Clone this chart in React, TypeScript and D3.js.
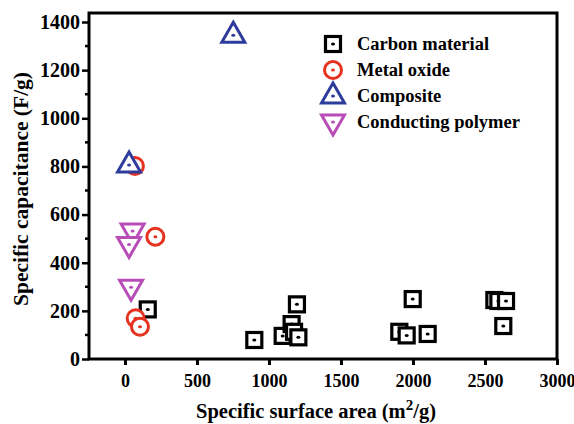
import React, { useEffect, useRef } from "react";
import * as d3 from "d3";

// [surface area m2/g, capacitance F/g]
const carbonArea = [158, 898, 1095, 1157, 1174, 1204, 1194, 1905, 1956, 1998, 2102, 2565, 2593, 2646, 2627];
const carbonCap = [206, 79, 96, 145, 113, 90, 227, 113, 98, 249, 104, 245, 241, 241, 137];
const oxideArea = [69, 211, 74, 104];
const oxideCap = [802, 508, 169, 134];
const compositeArea = [752, 28];
const compositeCap = [1345, 806];
const polymerArea = [53, 28, 42];
const polymerCap = [532, 476, 298];

const seriesNames = ["Carbon material", "Metal oxide", "Composite", "Conducting polymer"];
const seriesColors = ["#000000", "#e5331f", "#2d3c9c", "#b84db8"];
const seriesShapes = ["square", "circle", "up", "down"];

const xTicks = [0, 500, 1000, 1500, 2000, 2500, 3000];
const yTicks = [0, 200, 400, 600, 800, 1000, 1200, 1400];

const W = 574;
const H = 424;
const FONT = "Liberation Serif";

function drawMarker(g, shape, color, x, y) {
  const m = g.append("g").attr("transform", `translate(${x},${y})`);
  if (shape === "square") {
    m.append("rect").attr("x", -7.5).attr("y", -7.5).attr("width", 15).attr("height", 15)
      .attr("fill", "white").attr("stroke", color).attr("stroke-width", 3.2);
  } else if (shape === "circle") {
    m.append("circle").attr("r", 8.5).attr("fill", "white").attr("stroke", color).attr("stroke-width", 3);
  } else {
    const s = shape === "up" ? 1 : -1;
    const pts = [[0, -13 * s], [11.5, 7 * s], [-11.5, 7 * s]];
    m.append("path").attr("d", "M" + pts.map((p) => p.join(",")).join("L") + "Z")
      .attr("fill", "white").attr("stroke", color).attr("stroke-width", 3).attr("stroke-linejoin", "miter");
  }
  m.append("ellipse").attr("rx", 2).attr("ry", 1.5).attr("fill", color);
}

const App = () => {
  const svgRef = useRef(null);

  useEffect(() => {
    const svg = d3.select(svgRef.current);
    svg.selectAll("*").remove();

    const left = 89, right = 557, top = 13, bottom = 359;
    const x = d3.scaleLinear().domain([-250, 3000]).range([left, right]);
    const y = d3.scaleLinear().domain([0, 1400]).range([bottom, 22]);

    // frame
    svg.append("rect").attr("x", left).attr("y", top).attr("width", right - left).attr("height", bottom - top)
      .attr("fill", "none").attr("stroke", "#000").attr("stroke-width", 3);

    // x axis
    const xAxis = svg.append("g").attr("transform", `translate(0,${bottom})`)
      .call(d3.axisBottom(x).tickValues(xTicks).tickSize(6).tickSizeOuter(0).tickFormat(d3.format("d")));
    xAxis.select(".domain").remove();
    xAxis.selectAll("line").attr("stroke-width", 3);
    xAxis.selectAll("text").style("font-family", FONT).style("font-weight", "bold").style("font-size", "18px")
      .attr("dy", "1.05em").attr("fill", "#000");

    // y axis
    const yAxis = svg.append("g").attr("transform", `translate(${left},0)`)
      .call(d3.axisLeft(y).tickValues(yTicks).tickSize(7).tickSizeOuter(0).tickFormat(d3.format("d")));
    yAxis.select(".domain").remove();
    yAxis.selectAll("line").attr("stroke-width", 2.5);
    yAxis.selectAll("text").style("font-family", FONT).style("font-weight", "bold").style("font-size", "20px")
      .attr("x", -9).attr("fill", "#000");
    const yMinor = d3.range(100, 1400, 200);
    svg.append("g").selectAll("line").data(yMinor).join("line")
      .attr("x1", left - 4).attr("x2", left).attr("y1", (d) => y(d)).attr("y2", (d) => y(d))
      .attr("stroke", "#000").attr("stroke-width", 2.5);

    // titles
    const xt = svg.append("text").attr("x", 316).attr("y", 418).attr("text-anchor", "middle")
      .style("font-family", FONT).style("font-weight", "bold").style("font-size", "20.5px");
    xt.append("tspan").text("Specific surface area (m");
    xt.append("tspan").attr("dy", -8).style("font-size", "15px").text("2");
    xt.append("tspan").attr("dy", 8).text("/g)");

    svg.append("text").attr("transform", `translate(28,189) rotate(-90)`)
      .attr("text-anchor", "middle").style("font-family", FONT).style("font-weight", "bold").style("font-size", "21.5px")
      .text("Specific capacitance (F/g)");

    // data
    const areas = [carbonArea, oxideArea, compositeArea, polymerArea];
    const caps = [carbonCap, oxideCap, compositeCap, polymerCap];
    const plot = svg.append("g");
    areas.forEach((arr, si) => {
      arr.forEach((a, i) => {
        drawMarker(plot, seriesShapes[si], seriesColors[si], x(a), y(caps[si][i]));
      });
    });

    // legend
    const lg = svg.append("g");
    seriesNames.forEach((name, i) => {
      const ly = 44 + i * 26;
      drawMarker(lg, seriesShapes[i], seriesColors[i], 333, ly);
      lg.append("text").attr("x", 357).attr("y", ly + 6).style("font-family", FONT).style("font-weight", "bold")
        .style("font-size", "18.5px").attr("fill", "#000").text(name);
    });
  }, []);

  return (
    <svg ref={svgRef} width={W} height={H} style={{ position: "absolute", left: 0, top: 0, background: "#fff" }} />
  );
};

export default App;
